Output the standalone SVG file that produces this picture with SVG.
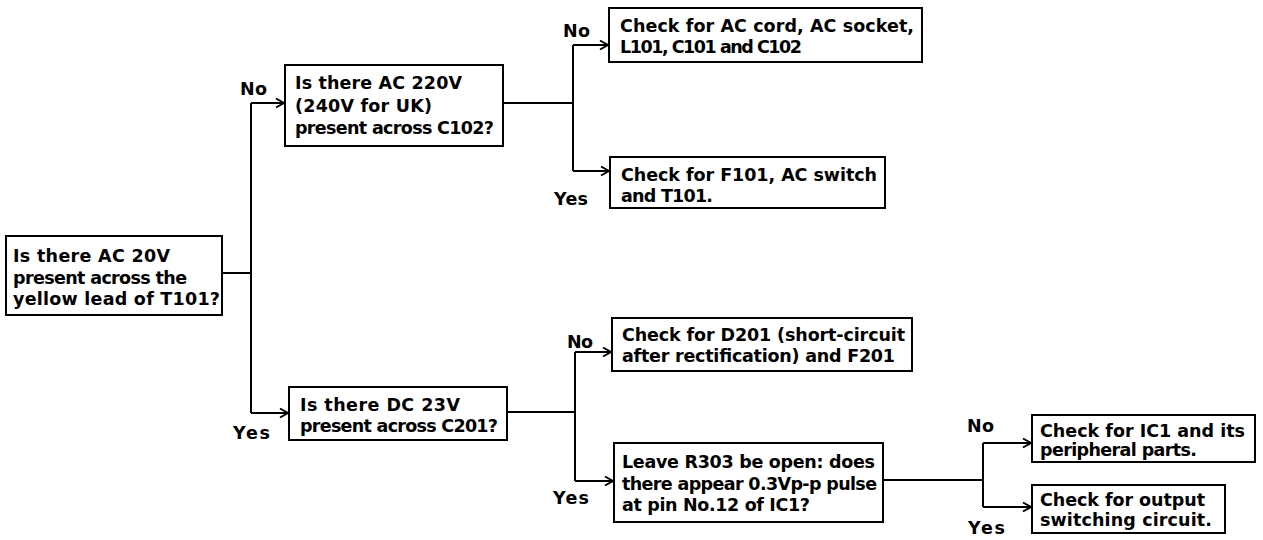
<svg xmlns="http://www.w3.org/2000/svg" width="1263" height="540" viewBox="0 0 1263 540">
<style>
.box{fill:#fff;stroke:#000;stroke-width:2}
.ln{fill:none;stroke:#000;stroke-width:2}
text{font-family:"DejaVu Sans","Liberation Sans",sans-serif;font-weight:bold;font-size:17.5px;fill:#000}
</style>
<defs>
<marker id="ah" markerWidth="12" markerHeight="12" refX="10" refY="6" orient="auto" markerUnits="userSpaceOnUse">
<path d="M2,1.5 L10,6 L2,10.5" fill="none" stroke="#000" stroke-width="2"/>
</marker>
</defs>
<g id="connectors">
<path class="ln" d="M222,273 H251"/>
<path class="ln" d="M251,103 V413"/>
<path class="ln" d="M251,103 H284" marker-end="url(#ah)"/>
<path class="ln" d="M251,413 H288" marker-end="url(#ah)"/>
<path class="ln" d="M503,103 H573"/>
<path class="ln" d="M573,45 V171"/>
<path class="ln" d="M573,45 H608" marker-end="url(#ah)"/>
<path class="ln" d="M573,171 H609" marker-end="url(#ah)"/>
<path class="ln" d="M507,412 H575"/>
<path class="ln" d="M575,352 V481"/>
<path class="ln" d="M575,352 H611" marker-end="url(#ah)"/>
<path class="ln" d="M575,481 H613" marker-end="url(#ah)"/>
<path class="ln" d="M883,480 H983"/>
<path class="ln" d="M983,443 V507"/>
<path class="ln" d="M983,443 H1031" marker-end="url(#ah)"/>
<path class="ln" d="M983,507 H1031" marker-end="url(#ah)"/>
<text x="240" y="95" textLength="27">No</text>
<text x="233" y="439" textLength="37">Yes</text>
<text x="563" y="37" textLength="27">No</text>
<text x="554" y="205" textLength="34">Yes</text>
<text x="567" y="348" textLength="26">No</text>
<text x="553" y="504" textLength="36">Yes</text>
<text x="967" y="432" textLength="27">No</text>
<text x="968" y="534" textLength="37">Yes</text>
</g>
<g id="n1">
<rect class="box" x="6" y="236" width="216" height="79"/>
<text x="13" y="262" textLength="157">Is there AC 20V</text>
<text x="13" y="284" textLength="174">present across the</text>
<text x="13" y="305" textLength="207">yellow lead of T101?</text>
</g>
<g id="n2">
<rect class="box" x="285" y="65" width="218" height="81"/>
<text x="295" y="89" textLength="167">Is there AC 220V</text>
<text x="295" y="112" textLength="137">(240V for UK)</text>
<text x="295" y="134" textLength="199">present across C102?</text>
</g>
<g id="n3">
<rect class="box" x="609" y="8" width="313" height="54"/>
<text x="620" y="32" textLength="294">Check for AC cord, AC socket,</text>
<text x="620" y="53" textLength="182">L101, C101 and C102</text>
</g>
<g id="n4">
<rect class="box" x="610" y="157" width="275" height="51"/>
<text x="621" y="181" textLength="256">Check for F101, AC switch</text>
<text x="621" y="202" textLength="92">and T101.</text>
</g>
<g id="n5">
<rect class="box" x="289" y="387" width="218" height="53"/>
<text x="300" y="411" textLength="160">Is there DC 23V</text>
<text x="300" y="432" textLength="198">present across C201?</text>
</g>
<g id="n6">
<rect class="box" x="612" y="318" width="300" height="53"/>
<text x="622" y="341" textLength="283">Check for D201 (short-circuit</text>
<text x="622" y="362" textLength="273">after rectification) and F201</text>
</g>
<g id="n7">
<rect class="box" x="614" y="443" width="269" height="79"/>
<text x="622" y="468" textLength="253">Leave R303 be open: does</text>
<text x="622" y="490" textLength="255">there appear 0.3Vp-p pulse</text>
<text x="622" y="511" textLength="188">at pin No.12 of IC1?</text>
</g>
<g id="n8">
<rect class="box" x="1032" y="415" width="223" height="47"/>
<text x="1040" y="437" textLength="205">Check for IC1 and its</text>
<text x="1040" y="456" textLength="157">peripheral parts.</text>
</g>
<g id="n9">
<rect class="box" x="1032" y="485" width="193" height="48"/>
<text x="1040" y="506" textLength="165">Check for output</text>
<text x="1040" y="526" textLength="172">switching circuit.</text>
</g>
</svg>
